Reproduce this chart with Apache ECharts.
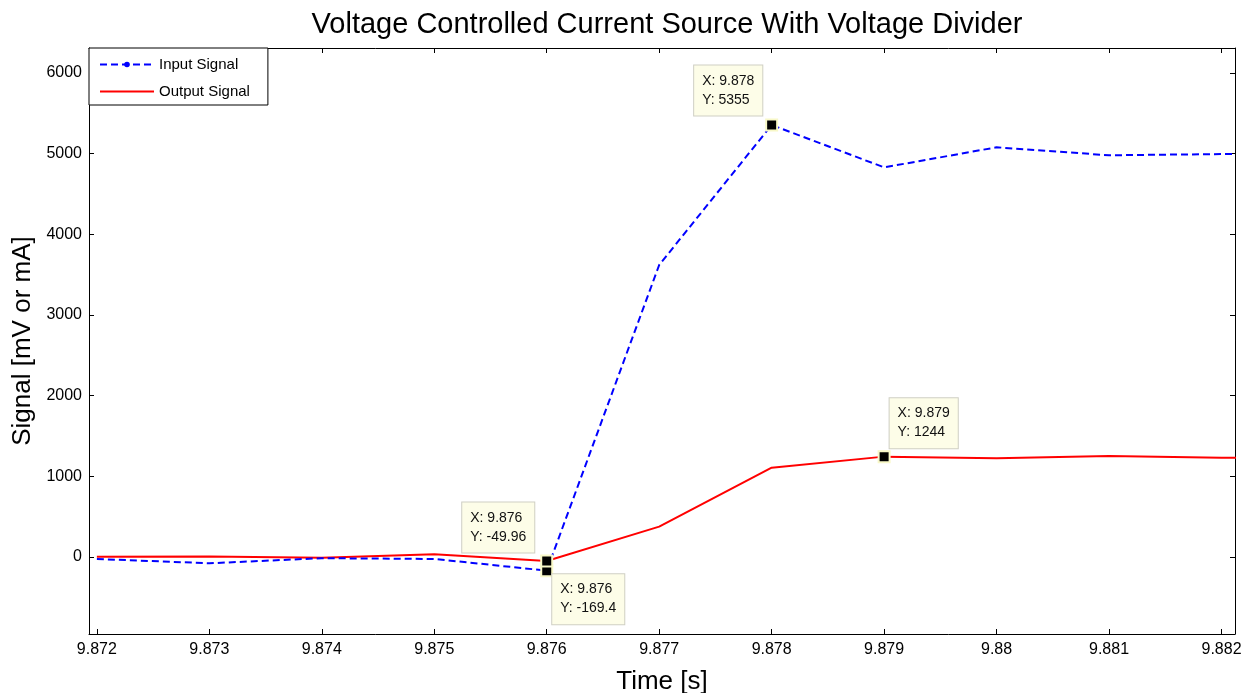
<!DOCTYPE html>
<html>
<head>
<meta charset="utf-8">
<script src="https://cdn.jsdelivr.net/npm/echarts@6/dist/echarts.min.js"></script>
<style>
    html, body { margin: 0; padding: 0; background: #fff; }
    #chart { width: 1250px; height: 693px; }
</style>
</head>
<body>
<div id="chart"></div>
<script>
// sample times [s] (last one lies just past the visible range, clipped by the grid)
var timeS = [9.872, 9.873, 9.874, 9.875, 9.876, 9.877, 9.878, 9.879, 9.880, 9.881, 9.882, 9.883];
var inputSignal = [-25, -78, -15, -25, -169.4, 3620, 5355, 4830, 5079, 4980, 4995, 5005];
var outputSignal = [4, 5, -10, 33, -49.96, 376, 1107, 1244, 1223, 1252, 1230, 1228];

var xTicks = [9.872, 9.873, 9.874, 9.875, 9.876, 9.877, 9.878, 9.879, 9.880, 9.881, 9.882];
var yTicks = [0, 1000, 2000, 3000, 4000, 5000, 6000];

// data tips: which series, which sample, where the box sits (offset from marker)
var inputTips = [
    { idx: 4, pos: [12, 10], vAlign: 'top' },
    { idx: 6, pos: [-71, -3], vAlign: 'bottom' }
];
var outputTips = [
    { idx: 4, pos: [-78, -2], vAlign: 'bottom' },
    { idx: 7, pos: [12, -2], vAlign: 'bottom' }
];

var font = 'Liberation Sans, Arial, sans-serif';

function pairs(xs, ys) {
    var out = [];
    for (var i = 0; i < xs.length; i++) out.push([xs[i], ys[i]]);
    return out;
}
function fmtX(v) {
    return String(parseFloat(v.toFixed(3)));
}
function tipPoints(tips, ys) {
    return tips.map(function (t) {
        return {
            coord: [timeS[t.idx], ys[t.idx]],
            label: {
                show: true,
                position: t.pos,
                align: 'left',
                verticalAlign: t.vAlign,
                formatter: 'X: ' + fmtX(timeS[t.idx]) + '\nY: ' + ys[t.idx],
                fontFamily: font,
                fontSize: 14,
                lineHeight: 19,
                color: '#111',
                backgroundColor: '#fdfde8',
                borderColor: '#cfcfc4',
                borderWidth: 1,
                padding: [6, 8, 6, 8]
            }
        };
    });
}
var markStyle = {
    symbol: 'rect',
    symbolSize: 11,
    itemStyle: { color: '#000', borderColor: '#f8f8c8', borderWidth: 2 },
    animation: false
};

var dom = document.getElementById('chart');
var myChart = echarts.init(dom);
var option = {
    animation: false,
    backgroundColor: '#fff',
    title: {
        text: 'Voltage Controlled Current Source With Voltage Divider',
        left: 662,
        textAlign: 'center',
        top: 5,
        textStyle: { fontFamily: font, fontSize: 29, fontWeight: 'normal', color: '#000' }
    },
    legend: {
        left: 89,
        top: 48,
        orient: 'vertical',
        itemWidth: 54,
        itemHeight: 7,
        itemGap: 12,
        padding: [9, 18, 6, 10],
        backgroundColor: '#fff',
        borderColor: '#000',
        borderWidth: 1,
        borderRadius: 0,
        textStyle: { fontFamily: font, fontSize: 15, color: '#000' },
        data: [
            { name: 'Input Signal' },
            { name: 'Output Signal', itemStyle: { opacity: 0 } }
        ]
    },
    grid: { left: 89, right: 15, top: 48, bottom: 59, outerBoundsMode: 'none', containLabel: false },
    xAxis: [{
        type: 'value',
        min: 9.87193,
        max: 9.88212,
        name: 'Time [s]',
        nameLocation: 'middle',
        nameGap: 35,
        nameTextStyle: { fontFamily: font, fontSize: 26, color: '#000' },
        axisLine: { onZero: false, lineStyle: { color: '#000', width: 1 } },
        axisTick: { inside: true, length: 5, customValues: xTicks, lineStyle: { color: '#000' } },
        axisLabel: {
            customValues: xTicks, margin: 8,
            fontFamily: font, fontSize: 16, color: '#000',
            formatter: fmtX
        },
        splitLine: { show: false }
    }, {
        type: 'value',
        position: 'top',
        min: 9.87193,
        max: 9.88212,
        axisLine: { show: true, onZero: false, lineStyle: { color: '#000', width: 1 } },
        axisTick: { inside: true, length: 5, customValues: xTicks, lineStyle: { color: '#000' } },
        axisLabel: { show: false },
        splitLine: { show: false }
    }],
    yAxis: [{
        type: 'value',
        min: -955,
        max: 6310,
        name: 'Signal [mV or mA]',
        nameLocation: 'middle',
        nameGap: 44,
        nameTextStyle: { fontFamily: font, fontSize: 26, color: '#000' },
        axisLine: { show: true, onZero: false, lineStyle: { color: '#000', width: 1 } },
        axisTick: { show: true, inside: true, length: 5, customValues: yTicks, lineStyle: { color: '#000' } },
        axisLabel: {
            customValues: yTicks, margin: 7, fontFamily: font, fontSize: 16, color: '#000',
            formatter: function (v) { return String(v); }
        },
        splitLine: { show: false }
    }, {
        type: 'value',
        position: 'right',
        min: -955,
        max: 6310,
        axisLine: { show: true, onZero: false, lineStyle: { color: '#000', width: 1 } },
        axisTick: { show: true, inside: true, length: 5, customValues: yTicks, lineStyle: { color: '#000' } },
        axisLabel: { show: false },
        splitLine: { show: false }
    }],
    series: [{
        name: 'Input Signal',
        type: 'line',
        data: pairs(timeS, inputSignal),
        showSymbol: false,
        symbol: 'circle',
        symbolSize: 7,
        itemStyle: { color: '#0000ff' },
        lineStyle: { color: '#0000ff', width: 2, type: [7, 4] },
        z: 3,
        markPoint: Object.assign({ data: tipPoints(inputTips, inputSignal) }, markStyle)
    }, {
        name: 'Output Signal',
        type: 'line',
        data: pairs(timeS, outputSignal),
        showSymbol: false,
        symbol: 'none',
        itemStyle: { color: '#ff0000' },
        lineStyle: { color: '#ff0000', width: 2 },
        z: 2,
        markPoint: Object.assign({ data: tipPoints(outputTips, outputSignal) }, markStyle)
    }]
};
myChart.setOption(option, true);
</script>
</body>
</html>
